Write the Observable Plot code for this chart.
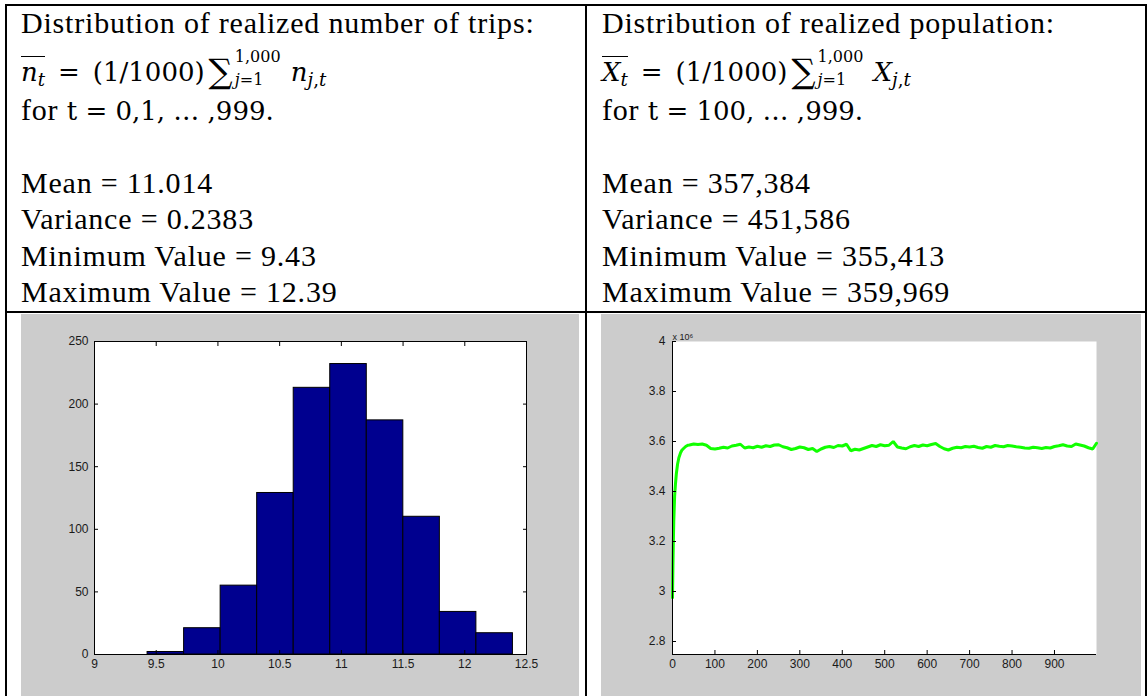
<!DOCTYPE html>
<html>
<head>
<meta charset="utf-8">
<script src="https://cdn.jsdelivr.net/npm/d3@7"></script>
<script src="https://cdn.jsdelivr.net/npm/@observablehq/plot@0.6"></script>
<style>
  html, body { margin: 0; padding: 0; background: #fff; }
  #page { position: relative; width: 1147px; height: 696px; overflow: hidden;
          font-family: "Liberation Serif", "Times New Roman", serif; color: #000; }
  .rule { position: absolute; background: #000; }
  .ln { position: absolute; font-size: 30px; line-height: 30px; white-space: nowrap; letter-spacing: 0.8px; }
  .ln span { line-height: 0; }
  .m { font-family: "DejaVu Serif", serif; font-size: 26px; letter-spacing: 0; }
  .mi { font-style: italic; }
  .bar { border-top: 1.5px solid #000; }
  .sb { font-size: 0.7em; vertical-align: -0.3em; }
  .sg { font-size: 1.3em; vertical-align: -0.06em; margin-left: 4px; }
  .lim { display: inline-block; position: relative; width: 46px; height: 0; font-size: 16px; margin: 0 10px 0 2px; }
  .lim > .up, .lim > .dn { position: absolute; left: 0; line-height: 16px; white-space: nowrap; }
  .lim > .up { bottom: 16px; }
  .lim > .dn { bottom: -7px; }
  .chart { position: absolute; }
</style>
</head>
<body>
<div id="page">
  <!-- table grid -->
  <div class="rule" style="left:5px;top:4px;width:1142px;height:2px"></div>
  <div class="rule" style="left:5px;top:4px;width:2px;height:692px"></div>
  <div class="rule" style="left:585px;top:4px;width:2px;height:692px"></div>
  <div class="rule" style="left:1145px;top:4px;width:2px;height:692px"></div>
  <div class="rule" style="left:5px;top:311px;width:1142px;height:2px"></div>

  <!-- left cell: trips -->
  <div class="ln" style="left:21px;top:8px">Distribution of realized number of trips:</div>
  <div class="ln" style="left:21px;top:56px"><span class="m"><span class="bar"><span class="mi">n</span><span class="sb mi">t</span></span>&ensp;=&ensp;(1/1000)<span class="sg">∑</span><span class="lim"><span class="up">1,000</span><span class="dn"><span class="mi">j</span>=1</span></span><span class="mi">n</span><span class="sb"><span class="mi">j</span>,<span class="mi">t</span></span></span></div>
  <div class="ln" style="left:21px;top:95px">for <span class="m">t = 0,1, … ,999.</span></div>
  <div class="ln" style="left:21px;top:168px" id="l-mean"></div>
  <div class="ln" style="left:21px;top:204px" id="l-var"></div>
  <div class="ln" style="left:21px;top:241px" id="l-min"></div>
  <div class="ln" style="left:21px;top:277px" id="l-max"></div>

  <!-- right cell: population -->
  <div class="ln" style="left:602px;top:8px">Distribution of realized population:</div>
  <div class="ln" style="left:602px;top:56px"><span class="m"><span class="bar"><span class="mi">X</span><span class="sb mi">t</span></span>&ensp;=&ensp;(1/1000)<span class="sg">∑</span><span class="lim"><span class="up">1,000</span><span class="dn"><span class="mi">j</span>=1</span></span><span class="mi">X</span><span class="sb"><span class="mi">j</span>,<span class="mi">t</span></span></span></div>
  <div class="ln" style="left:602px;top:95px">for <span class="m">t = 100, … ,999.</span></div>
  <div class="ln" style="left:602px;top:168px" id="r-mean"></div>
  <div class="ln" style="left:602px;top:204px" id="r-var"></div>
  <div class="ln" style="left:602px;top:241px" id="r-min"></div>
  <div class="ln" style="left:602px;top:277px" id="r-max"></div>

  <div class="chart" id="hist" style="left:21px;top:314px"></div>
  <div class="chart" id="pop" style="left:601px;top:314px"></div>
</div>

<script>
// Summary statistics printed above each chart
const statLabels = ["Mean", "Variance", "Minimum Value", "Maximum Value"];
const tripStats = ["11.014", "0.2383", "9.43", "12.39"];
const popStats = ["357,384", "451,586", "355,413", "359,969"];

// Histogram of the realized number of trips (10 bins between min and max)
const histEdges = [9.43, 9.726, 10.022, 10.318, 10.614, 10.91, 11.206, 11.502, 11.798, 12.094, 12.39];
const histCounts = [2, 21, 55, 129, 213, 232, 187, 110, 34, 17];
const histXTicks = [9, 9.5, 10, 10.5, 11, 11.5, 12, 12.5];
const histYTicks = [0, 50, 100, 150, 200, 250];

// Realized population path over time (axis units of 10^6)
const popT = [0, 1, 2, 3, 4, 5, 7, 9, 12, 15, 19, 22, 26, 31, 36,
  40, 50, 60, 70, 80, 90, 100, 110, 120, 130, 140, 150, 160, 170, 180, 190,
  200, 210, 220, 230, 240, 250, 260, 270, 280, 290, 300, 310, 320, 330, 340,
  350, 360, 370, 380, 390, 400, 410, 420, 430, 440, 450, 460, 470, 480, 490,
  500, 510, 520, 530, 540, 550, 560, 570, 580, 590, 600, 610, 620, 630, 640,
  650, 660, 670, 680, 690, 700, 710, 720, 730, 740, 750, 760, 770, 780, 790,
  800, 810, 820, 830, 840, 850, 860, 870, 880, 890, 900, 910, 920, 930, 940,
  950, 960, 970, 980, 990, 999];
const popValues = [2.975, 3.10, 3.20, 3.28, 3.33, 3.38, 3.43, 3.47, 3.51, 3.535, 3.555, 3.565, 3.572, 3.58, 3.585,
  3.586, 3.590, 3.588, 3.590, 3.585, 3.572, 3.570, 3.573, 3.577, 3.574, 3.582, 3.585, 3.589, 3.574, 3.578, 3.575,
  3.581, 3.577, 3.583, 3.580, 3.586, 3.587, 3.579, 3.575, 3.568, 3.572, 3.578, 3.575, 3.568, 3.572, 3.560,
  3.570, 3.577, 3.580, 3.576, 3.584, 3.582, 3.589, 3.563, 3.569, 3.566, 3.572, 3.578, 3.584, 3.580, 3.587,
  3.583, 3.585, 3.600, 3.578, 3.574, 3.571, 3.579, 3.584, 3.580, 3.586, 3.583, 3.588, 3.592, 3.580, 3.571,
  3.566, 3.573, 3.577, 3.575, 3.580, 3.578, 3.581, 3.576, 3.573, 3.580, 3.577, 3.584, 3.581, 3.579, 3.584,
  3.582, 3.579, 3.577, 3.574, 3.573, 3.577, 3.575, 3.572, 3.576, 3.574, 3.580, 3.583, 3.587, 3.582, 3.580,
  3.590, 3.586, 3.582, 3.575, 3.570, 3.593];
const popXDomain = [0, 999];
const popYDomain = [2.748, 4];
const popXTicks = [0, 100, 200, 300, 400, 500, 600, 700, 800, 900];
const popYTicks = [2.8, 3, 3.2, 3.4, 3.6, 3.8, 4];
const popExponent = "x 10⁶";

// Fill in the statistic lines
const ids = ["mean", "var", "min", "max"];
ids.forEach((id, i) => {
  document.getElementById("l-" + id).textContent = `${statLabels[i]} = ${tripStats[i]}`;
  document.getElementById("r-" + id).textContent = `${statLabels[i]} = ${popStats[i]}`;
});

const axisStyle = {
  background: "#cccccc",
  fontFamily: "'Liberation Sans', Arial, Helvetica, sans-serif",
  fontSize: "12px",
  color: "#1a1a1a",
  overflow: "visible"
};
const blank = () => "";
const plain = (d) => `${d}`;

// Histogram panel (boxed axes, ticks on all four sides pointing inward)
const bins = histCounts.map((c, i) => ({x1: histEdges[i], x2: histEdges[i + 1], count: c}));
const hist = Plot.plot({
  width: 558, height: 382,
  marginLeft: 73, marginRight: 53, marginTop: 27, marginBottom: 42,
  style: axisStyle,
  x: {domain: [histXTicks[0], histXTicks[histXTicks.length - 1]]},
  y: {domain: [histYTicks[0], histYTicks[histYTicks.length - 1]]},
  marks: [
    Plot.frame({fill: "white", stroke: null}),
    Plot.rectY(bins, {x1: "x1", x2: "x2", y: "count", fill: "#00008f", stroke: "#000", strokeWidth: 1}),
    Plot.frame({stroke: "#000"}),
    Plot.axisX(histXTicks, {anchor: "bottom", tickSize: -4, tickPadding: 9, tickFormat: plain, label: null, stroke: "#000"}),
    Plot.axisX(histXTicks, {anchor: "top", tickSize: -4, tickFormat: blank, label: null, stroke: "#000"}),
    Plot.axisY(histYTicks, {anchor: "left", tickSize: -4, tickPadding: 10, tickFormat: plain, label: null, stroke: "#000"}),
    Plot.axisY(histYTicks, {anchor: "right", tickSize: -4, tickFormat: blank, label: null, stroke: "#000"})
  ]
});
document.getElementById("hist").append(hist);

// Population path panel (left and bottom axes only)
const series = popT.map((t, i) => ({t, v: popValues[i]}));
const pop = Plot.plot({
  width: 540, height: 382,
  marginLeft: 71, marginRight: 45, marginTop: 27, marginBottom: 42,
  style: axisStyle,
  x: {domain: popXDomain},
  y: {domain: popYDomain},
  marks: [
    Plot.frame({fill: "white", stroke: null}),
    Plot.line(series, {x: "t", y: "v", stroke: "#11ff00", strokeWidth: 3, strokeLinejoin: "miter"}),
    Plot.ruleX([popXDomain[0]], {stroke: "#000"}),
    Plot.ruleY([popYDomain[0]], {stroke: "#000"}),
    Plot.axisX(popXTicks, {anchor: "bottom", tickSize: -4, tickPadding: 9, tickFormat: plain, label: null, stroke: "#000"}),
    Plot.axisY(popYTicks, {anchor: "left", tickSize: -4, tickPadding: 11, tickFormat: plain, label: null, stroke: "#000"}),
    Plot.text([popExponent], {frameAnchor: "top-left", text: d => d, textAnchor: "start",
      lineAnchor: "bottom", dy: -2, dx: 0, fontSize: 9, fill: "#1a1a1a"})
  ]
});
document.getElementById("pop").append(pop);
</script>
</body>
</html>
